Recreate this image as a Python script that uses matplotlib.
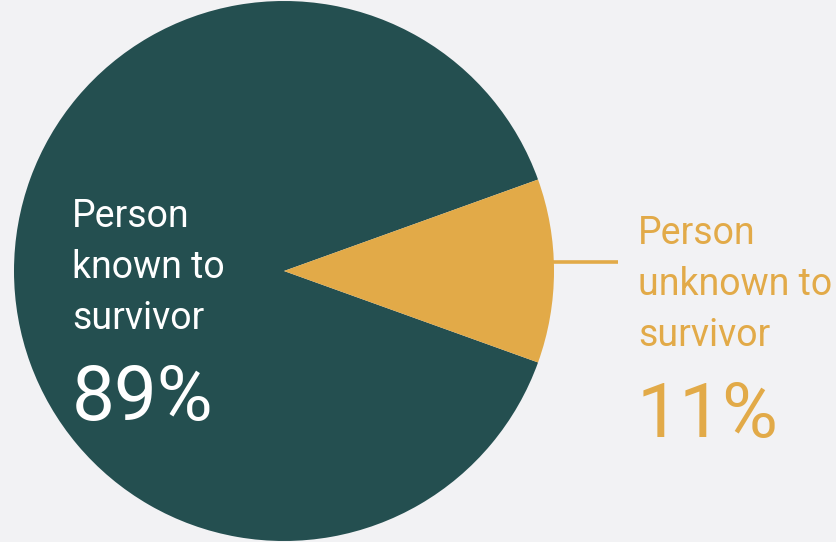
import matplotlib
matplotlib.use("Agg")
import matplotlib.pyplot as plt

# share of cases by relation to survivor
labels = ["Person\nknown to\nsurvivor", "Person\nunknown to\nsurvivor"]
values = [89, 11]
pct_text = ["89%", "11%"]

teal = "#244F50"
gold = "#E2AA48"
bg = "#F2F2F4"

plt.rcParams["font.family"] = ["Roboto", "DejaVu Sans"]

fig = plt.figure(figsize=(8.36, 5.42), dpi=100, facecolor=bg)
ax = fig.add_axes([0, 0, 1, 1])
ax.set_facecolor(bg)

# unknown slice centred on the right-hand side
start = values[1] / 100 * 180
ax.pie(values, colors=[teal, gold], startangle=start, center=(284, 271),
       radius=270, wedgeprops=dict(linewidth=0))

ax.set_xlim(0, 836)
ax.set_ylim(0, 542)
ax.set_aspect("equal")
ax.axis("off")

# leader line
ax.plot([552, 618], [542 - 262, 542 - 262], color=gold, lw=2.6, solid_capstyle="butt")

# multi-line text: baseline refers to the last line
ax.text(72, 542 - 329, labels[0], color="white", fontsize=27, va="baseline",
        ha="left", linespacing=1.48)
ax.text(72, 542 - 420, pct_text[0], color="white", fontsize=55, va="baseline", ha="left")

ax.text(638, 542 - 346, labels[1], color=gold, fontsize=27, va="baseline",
        ha="left", linespacing=1.48)
ax.text(637, 542 - 437, pct_text[1], color=gold, fontsize=55, va="baseline", ha="left")

fig.savefig("out.png", dpi=100, facecolor=bg)
